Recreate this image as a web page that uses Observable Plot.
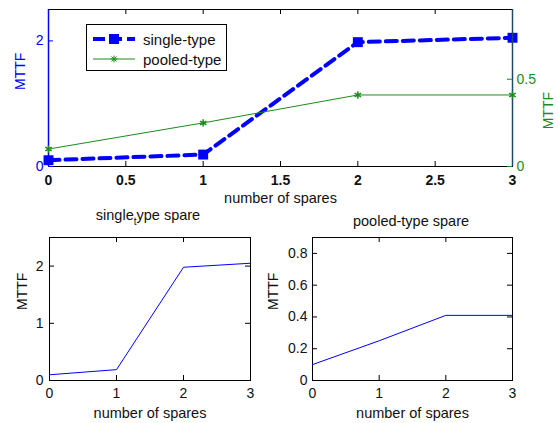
<!DOCTYPE html>
<html><head><meta charset="utf-8">
<script src="https://cdn.jsdelivr.net/npm/d3@7"></script>
<script src="https://cdn.jsdelivr.net/npm/@observablehq/plot@0.6"></script>
<style>
body{margin:0;background:#fff;}
#c{position:relative;width:558px;height:423px;font-family:"Liberation Sans",Arial,sans-serif;overflow:hidden;background:#fff;}
#c svg{position:absolute;left:0;top:0;}
.t{position:absolute;font-size:14.5px;color:#111;white-space:nowrap;transform:translate(-50%,-50%);line-height:1;}
.t sub{font-size:10px;vertical-align:-5px;line-height:0;}
#leg{position:absolute;left:86px;top:24px;width:139px;height:45px;border:1px solid #000;background:#fff;}
#leg svg{position:absolute;left:0;top:0;}
#leg .r{position:absolute;left:56px;font-size:15px;color:#111;line-height:1;transform:translateY(-50%);}
</style></head><body><div id="c"></div>
<script>
// ---- data ----
const spares = [0, 1, 2, 3];
const singleMTTF = [0.10, 0.19, 1.98, 2.05];
const pooledMTTF = [0.10, 0.25, 0.41, 0.41];
const seriesNames = ["single-type", "pooled-type"];
const xTicksTop = [0, 0.5, 1, 1.5, 2, 2.5, 3];
const xTicksBottom = [0, 1, 2, 3];
const yTicksTopLeft = [0, 2];
const yTicksTopRight = [0, 0.5];
const yTicksSingle = [0, 1, 2];
const yTicksPooled = [0, 0.2, 0.4, 0.6, 0.8];
const xLabel = "number of spares";
const yLabel = "MTTF";
const titleSingle = ["single", "t", "ype spare"];
const titlePooled = "pooled-type spare";

const singleData = spares.map((s, i) => ({spares: s, mttf: singleMTTF[i]}));
const pooledData = spares.map((s, i) => ({spares: s, mttf: pooledMTTF[i]}));

const W = 558, H = 423;
const BLUE = "#0000ff", GREEN = "#1a8c1a", TEAL = "#1d4a6a", INK = "#111";
const FONT = "Liberation Sans, Arial, sans-serif";
const fmt = d => String(d);
const c = document.getElementById("c");

function panel(m, yDomain, marks) {
  const svg = Plot.plot({
    width: W, height: H,
    marginLeft: m.l, marginRight: m.r, marginTop: m.t, marginBottom: m.b,
    style: {background: "transparent", fontFamily: FONT, fontSize: "14px", color: INK, overflow: "visible"},
    x: {domain: [0, 3], axis: null},
    y: {domain: yDomain, axis: null},
    marks
  });
  c.appendChild(svg);
  return svg;
}
function xInTicks(ticks, innerH) {
  return [
    Plot.tickX(ticks, {x: d => d, insetTop: innerH - 5, stroke: "#000"}),
    Plot.tickX(ticks, {x: d => d, insetBottom: innerH - 5, stroke: "#000"})
  ];
}
function yInTicks(ticks, innerW, left = true, right = true, color = "#000") {
  const a = [];
  if (left) a.push(Plot.tickY(ticks, {y: d => d, insetRight: innerW - 5, stroke: color}));
  if (right) a.push(Plot.tickY(ticks, {y: d => d, insetLeft: innerW - 5, stroke: color}));
  return a;
}

// ---- top panel (dual axes) ----
const mTop = {l: 48, r: 46, t: 9, b: H - 166};
const topInnerW = W - mTop.l - mTop.r, topInnerH = H - mTop.t - mTop.b;
panel(mTop, [0, 2.5], [
  Plot.frame({stroke: "#000"}),
  ...xInTicks(xTicksTop, topInnerH),
  ...yInTicks(yTicksTopLeft, topInnerW, true, false, BLUE),
  Plot.ruleX([0], {stroke: BLUE, strokeWidth: 1.5}),
  Plot.axisX({ticks: xTicksTop, tickFormat: fmt, tickSize: 0, tickPadding: 9, fontSize: 14, fontWeight: "bold", label: null}),
  Plot.axisY({ticks: yTicksTopLeft, tickFormat: fmt, tickSize: 0, tickPadding: 5, color: BLUE, fontSize: 14, label: null}),
  Plot.line(singleData, {x: "spares", y: "mttf", stroke: BLUE, strokeWidth: 4, strokeDasharray: "11,6"}),
  Plot.dot(singleData, {x: "spares", y: "mttf", symbol: "square", r: 5.6, fill: BLUE}),
  Plot.text([yLabel], {text: d => d, frameAnchor: "left", rotate: -90, dx: -28, dy: 2, fill: BLUE, fontSize: 14}),
  Plot.text([xLabel], {text: d => d, frameAnchor: "bottom", lineAnchor: "middle", dy: 32, fill: INK, fontSize: 14.5})
]);
panel(mTop, [0, 0.9], [
  Plot.ruleX([3], {stroke: TEAL, strokeWidth: 1.5}),
  ...yInTicks(yTicksTopRight, topInnerW, false, true, GREEN),
  Plot.axisY({anchor: "right", ticks: yTicksTopRight, tickFormat: fmt, tickSize: 0, tickPadding: 4, color: GREEN, fontSize: 14, label: null}),
  Plot.line(pooledData, {x: "spares", y: "mttf", stroke: GREEN, strokeWidth: 1}),
  Plot.dot(pooledData, {x: "spares", y: "mttf", symbol: "asterisk", r: 3.5, stroke: GREEN}),
  Plot.text([yLabel], {text: d => d, frameAnchor: "right", rotate: -90, dx: 36, dy: 4, fill: GREEN, fontSize: 14})
]);

// ---- bottom-left panel ----
const mBL = {l: 49, r: W - 250, t: 237, b: H - 380};
const blW = W - mBL.l - mBL.r, blH = H - mBL.t - mBL.b;
panel(mBL, [0, 2.5], [
  Plot.frame({stroke: "#000"}),
  ...xInTicks(xTicksBottom, blH),
  ...yInTicks(yTicksSingle, blW),
  Plot.axisX({ticks: xTicksBottom, tickFormat: fmt, tickSize: 0, tickPadding: 8, fontSize: 14, label: null}),
  Plot.axisY({ticks: yTicksSingle, tickFormat: fmt, tickSize: 0, tickPadding: 6, fontSize: 14, label: null}),
  Plot.line(singleData, {x: "spares", y: "mttf", stroke: BLUE, strokeWidth: 1}),
  Plot.text([yLabel], {text: d => d, frameAnchor: "left", rotate: -90, dx: -27, dy: 1, fill: INK, fontSize: 14}),
  Plot.text([xLabel], {text: d => d, frameAnchor: "bottom", lineAnchor: "middle", dy: 33, fill: INK, fontSize: 14.5})
]);

// ---- bottom-right panel ----
const mBR = {l: 312, r: 46, t: 237, b: H - 380};
const brW = W - mBR.l - mBR.r, brH = H - mBR.t - mBR.b;
panel(mBR, [0, 0.9], [
  Plot.frame({stroke: "#000"}),
  ...xInTicks(xTicksBottom, brH),
  ...yInTicks(yTicksPooled, brW),
  Plot.axisX({ticks: xTicksBottom, tickFormat: fmt, tickSize: 0, tickPadding: 8, fontSize: 14, label: null}),
  Plot.axisY({ticks: yTicksPooled, tickFormat: fmt, tickSize: 0, tickPadding: 5, fontSize: 14, label: null}),
  Plot.line(pooledData, {x: "spares", y: "mttf", stroke: BLUE, strokeWidth: 1}),
  Plot.text([yLabel], {text: d => d, frameAnchor: "left", rotate: -90, dx: -39, dy: 1, fill: INK, fontSize: 14}),
  Plot.text([xLabel], {text: d => d, frameAnchor: "bottom", lineAnchor: "middle", dy: 33, fill: INK, fontSize: 14.5})
]);

// ---- titles ----
function addDiv(cls, html, x, y) {
  const d = document.createElement("div");
  d.className = cls; d.innerHTML = html;
  d.style.left = x + "px"; d.style.top = y + "px";
  c.appendChild(d);
}
addDiv("t", `${titleSingle[0]}<sub>${titleSingle[1]}</sub>${titleSingle[2]}`, 148, 215);
addDiv("t", titlePooled, 411, 221);

// ---- legend ----
const leg = document.createElement("div");
leg.id = "leg";
leg.innerHTML = `<svg width="139" height="45">
  <line x1="6" x2="48" y1="14" y2="14" stroke="${BLUE}" stroke-width="4" stroke-dasharray="12,5"/>
  <rect x="22" y="9" width="10" height="10" fill="${BLUE}"/>
  <line x1="6" x2="48" y1="34" y2="34" stroke="${GREEN}" stroke-width="1"/>
  <g stroke="${GREEN}" stroke-width="1" transform="translate(27,34)">
    <line x1="-3.5" x2="3.5" y1="0" y2="0"/><line x1="0" x2="0" y1="-3.5" y2="3.5"/>
    <line x1="-2.5" x2="2.5" y1="-2.5" y2="2.5"/><line x1="-2.5" x2="2.5" y1="2.5" y2="-2.5"/>
  </g></svg>
  <div class="r" style="top:14px">${seriesNames[0]}</div>
  <div class="r" style="top:34px">${seriesNames[1]}</div>`;
c.appendChild(leg);
</script></body></html>
